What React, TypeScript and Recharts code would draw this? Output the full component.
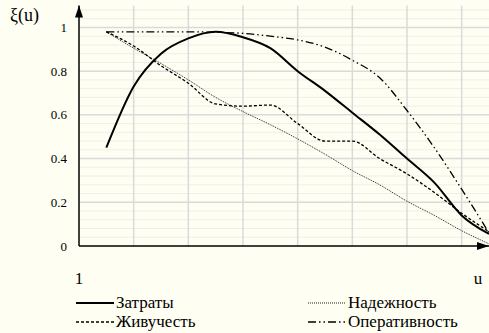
import React from "react";
import {
  LineChart,
  Line,
  XAxis,
  YAxis,
  ReferenceLine,
  ReferenceDot,
} from "recharts";

const xs = [0.5, 1, 1.5, 2, 2.5, 3, 3.5, 4, 4.5, 5, 5.5, 6, 6.5, 7, 7.5];
const zatraty = [0.45, 0.73, 0.88, 0.95, 0.98, 0.955, 0.905, 0.8, 0.71, 0.61, 0.51, 0.4, 0.29, 0.14, 0.055];
const nadezhnost = [0.98, 0.905, 0.835, 0.76, 0.68, 0.615, 0.555, 0.49, 0.42, 0.345, 0.28, 0.205, 0.14, 0.07, 0.01];
const zhivuchest = [0.98, 0.915, 0.825, 0.745, 0.65, 0.64, 0.645, 0.56, 0.48, 0.48, 0.4, 0.33, 0.245, 0.15, 0.065];
const operativnost = [0.98, 0.98, 0.98, 0.98, 0.978, 0.973, 0.96, 0.943, 0.91, 0.85, 0.77, 0.62, 0.45, 0.26, 0.06];

const yTicks = [0, 0.2, 0.4, 0.6, 0.8, 1];
const minorY = [0.04, 0.08, 0.12, 0.16, 0.24, 0.28, 0.32, 0.36, 0.44, 0.48, 0.52, 0.56, 0.64, 0.68, 0.72, 0.76, 0.84, 0.88, 0.92, 0.96, 1.04, 1.08];
const gridX = [1, 2, 3, 4, 5, 6, 7];
const xLabels = [
  { at: 0, text: "1" },
  { at: 7.3, text: "u" },
];

const series = [
  { key: "zatraty", name: "Затраты", width: 2, dash: undefined as string | undefined, color: "#000" },
  { key: "nadezhnost", name: "Надежность", width: 1, dash: "1 1", color: "#222" },
  { key: "zhivuchest", name: "Живучесть", width: 1.3, dash: "3 2", color: "#000" },
  { key: "operativnost", name: "Оперативность", width: 1.3, dash: "8 3 1.5 3 1.5 3", color: "#000" },
];

const data = xs.map((x, i) => ({
  x,
  zatraty: zatraty[i],
  nadezhnost: nadezhnost[i],
  zhivuchest: zhivuchest[i],
  operativnost: operativnost[i],
}));

const font = "Liberation Serif, DejaVu Serif, serif";

// legend slots, same order as series
const legendSlots = [
  { left: 76, top: 293 },
  { left: 308, top: 293 },
  { left: 76, top: 312 },
  { left: 308, top: 312 },
];

const ChartLegend = () => (
  <>
    {series.map((s, i) => {
      const slot = legendSlots[i];
      return (
        <div
          key={s.key}
          style={{
            position: "absolute",
            left: slot.left,
            top: slot.top,
            display: "flex",
            alignItems: "center",
            fontFamily: font,
            fontSize: 17,
            color: "#000",
            whiteSpace: "nowrap",
            lineHeight: "20px",
          }}
        >
          <svg width={38} height={10} style={{ marginRight: 2 }}>
            <line
              x1={0}
              y1={5}
              x2={38}
              y2={5}
              stroke={s.color}
              strokeWidth={s.width}
              strokeDasharray={s.dash}
            />
          </svg>
          <span>{s.name}</span>
        </div>
      );
    })}
  </>
);

const UpArrow = (props: any) => {
  const { cx, cy } = props;
  return <polygon points={`${cx},${cy} ${cx - 4},${cy + 12} ${cx + 4},${cy + 12}`} fill="#000" />;
};

const RightArrow = (props: any) => {
  const { cx, cy } = props;
  return <polygon points={`${cx},${cy} ${cx - 12},${cy - 4} ${cx - 12},${cy + 4}`} fill="#000" />;
};

export default function App() {
  return (
    <div style={{ position: "relative", width: 489, height: 333, background: "#fefef3" }}>
      <style>{`body{margin:0}`}</style>
      <div
        style={{
          position: "absolute",
          left: 10,
          top: 5,
          fontFamily: font,
          fontSize: 18,
          color: "#000",
        }}
      >
        ξ(u)
      </div>
      <LineChart width={489} height={333} data={data} margin={{ top: 5.6, right: 0, bottom: 0, left: 0 }}>
        {minorY.map((y) => (
          <ReferenceLine key={`m${y}`} y={y} stroke="#efefe6" strokeWidth={1} />
        ))}
        {yTicks.slice(1).map((y) => (
          <ReferenceLine key={`M${y}`} y={y} stroke="#dadada" strokeWidth={1.5} />
        ))}
        {gridX.map((x) => (
          <ReferenceLine key={`v${x}`} x={x} stroke="#dadada" strokeWidth={1.5} />
        ))}
        <XAxis
          dataKey="x"
          type="number"
          domain={[0, 7.5]}
          ticks={xLabels.map((l) => l.at)}
          tickFormatter={(v: number) => xLabels.find((l) => l.at === v)?.text ?? ""}
          tickSize={0}
          tickMargin={26}
          height={87}
          axisLine={{ stroke: "#000", strokeWidth: 1.5 }}
          tick={{ fill: "#000", fontSize: 17, fontFamily: font }}
          allowDataOverflow
        />
        <YAxis
          type="number"
          domain={[0, 1.1]}
          ticks={yTicks}
          width={79}
          tickSize={0}
          tickMargin={12}
          axisLine={{ stroke: "#000", strokeWidth: 1.5 }}
          tick={{ fill: "#000", fontSize: 13, fontFamily: font }}
          allowDataOverflow
        />
        {series.map((s) => (
          <Line
            key={s.key}
            dataKey={s.key}
            name={s.name}
            type="monotone"
            stroke={s.color}
            strokeWidth={s.width}
            strokeDasharray={s.dash}
            dot={false}
            isAnimationActive={false}
          />
        ))}
        <ReferenceDot x={0} y={1.1} r={0} shape={UpArrow} ifOverflow="visible" />
        <ReferenceDot x={7.5} y={0} r={0} shape={RightArrow} ifOverflow="visible" />
      </LineChart>
      <ChartLegend />
    </div>
  );
}
